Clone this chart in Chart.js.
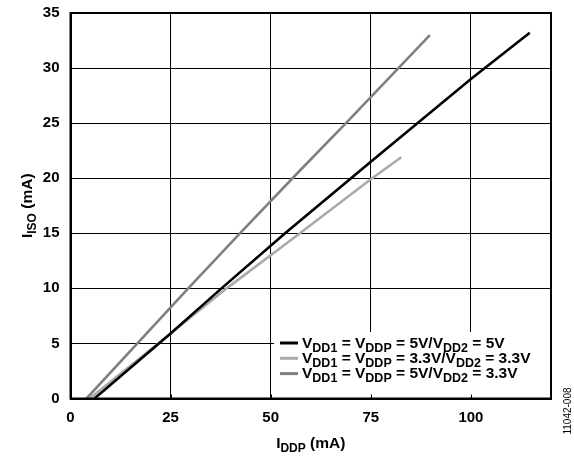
<!DOCTYPE html>
<html>
<head>
<meta charset="utf-8">
<script src="https://cdn.jsdelivr.net/npm/chart.js@4/dist/chart.umd.min.js"></script>
<style>
  body { margin: 0; background: #fff; }
  #wrap { width: 574px; height: 456px; position: relative; }
</style>
</head>
<body>
<div id="wrap"><canvas id="isoChart"></canvas></div>
<script>
// I_DDP (mA) vs I_ISO (mA)
var black5v5vX = [6.0, 25, 37.7, 53.6, 75, 100, 114.7];
var black5v5vY = [0, 5.9, 10, 15, 21.5, 29.0, 33.2];
var light33X = [4.8, 25, 39, 57.3, 75, 82.6];
var light33Y = [0, 5.9, 10, 15, 19.9, 21.9];
var mid5v33X = [4.0, 29.4, 42.3, 57.3, 68.8, 89.75];
var mid5v33Y = [0, 10, 15, 20.7, 25, 33.0];

var xTicks = [0, 25, 50, 75, 100];
var yTicks = [0, 5, 10, 15, 20, 25, 30, 35];

// legend entries: [text, subscript] pieces
var legendItems = [
  { color: '#000000', parts: [['V', 'DD1'], [' = ', ''], ['V', 'DDP'], [' = 5V/', ''], ['V', 'DD2'], [' = 5V', '']] },
  { color: '#aaaaaa', parts: [['V', 'DD1'], [' = ', ''], ['V', 'DDP'], [' = 3.3V/', ''], ['V', 'DD2'], [' = 3.3V', '']] },
  { color: '#808080', parts: [['V', 'DD1'], [' = ', ''], ['V', 'DDP'], [' = 5V/', ''], ['V', 'DD2'], [' = 3.3V', '']] }
];

var pts = function(xs, ys){
  var out = [];
  for (var i = 0; i < xs.length; i++) out.push({x: xs[i], y: ys[i]});
  return out;
};

var FONT = '"Liberation Sans", Arial, sans-serif';

// draws "main" + "sub" pieces; returns width
var drawSub = function(ctx, parts, x, y, size, subSize){
  var cx = x;
  parts.forEach(function(p){
    ctx.font = 'bold ' + size + 'px ' + FONT;
    ctx.fillText(p[0], cx, y);
    cx += ctx.measureText(p[0]).width;
    if (p[1]) {
      ctx.font = 'bold ' + subSize + 'px ' + FONT;
      ctx.fillText(p[1], cx, y + 4);
      cx += ctx.measureText(p[1]).width;
    }
  });
  return cx - x;
};
var measureSub = function(ctx, parts, size, subSize){
  var w = 0;
  parts.forEach(function(p){
    ctx.font = 'bold ' + size + 'px ' + FONT;
    w += ctx.measureText(p[0]).width;
    if (p[1]) { ctx.font = 'bold ' + subSize + 'px ' + FONT; w += ctx.measureText(p[1]).width; }
  });
  return w;
};

var extras = {
  id: 'extras',
  afterDraw: function(chart){
    var ctx = chart.ctx, a = chart.chartArea;
    var xs = chart.scales.x;
    ctx.save();
    // legend box
    ctx.fillStyle = '#fff';
    ctx.fillRect(274, 332, a.right - 274 - 1, a.bottom - 332 - 1);
    // small inner ticks on bottom axis over the legend
    ctx.strokeStyle = '#000'; ctx.lineWidth = 1;
    xTicks.forEach(function(t){
      var px = Math.round(xs.getPixelForValue(t)) + 0.5;
      ctx.beginPath(); ctx.moveTo(px, a.bottom); ctx.lineTo(px, a.bottom - 4); ctx.stroke();
    });
    ctx.textBaseline = 'alphabetic';
    ctx.fillStyle = '#000';
    legendItems.forEach(function(it, i){
      var ly = 343 + i * 15.3;
      ctx.strokeStyle = it.color; ctx.lineWidth = 3;
      ctx.beginPath(); ctx.moveTo(280, ly); ctx.lineTo(298, ly); ctx.stroke();
      ctx.fillStyle = '#000';
      drawSub(ctx, it.parts, 302, ly + 4.5, 15.5, 12.5);
    });
    // frame
    ctx.strokeStyle = '#000'; ctx.lineWidth = 2;
    ctx.strokeRect(a.left, a.top, a.right - a.left, a.bottom - a.top);
    // x axis title
    var xt = [['I', 'DDP'], [' (mA)', '']];
    var w = measureSub(ctx, xt, 15.5, 12);
    drawSub(ctx, xt, (a.left + a.right) / 2 - w / 2, 448, 15.5, 12);
    // y axis title
    var yt = [['I', 'ISO'], [' (mA)', '']];
    w = measureSub(ctx, yt, 15.5, 12);
    ctx.save();
    ctx.translate(32, (a.top + a.bottom) / 2);
    ctx.rotate(-Math.PI / 2);
    drawSub(ctx, yt, -w / 2, 0, 15.5, 12);
    ctx.restore();
    // figure id
    ctx.save();
    ctx.translate(571, 411);
    ctx.rotate(-Math.PI / 2);
    ctx.font = '10px ' + FONT;
    ctx.textAlign = 'center';
    ctx.fillText('11042-008', 0, 0);
    ctx.restore();
    ctx.restore();
  }
};

var ctx = document.getElementById('isoChart').getContext('2d');
var isoChart = new Chart(ctx, {
  type: 'line',
  data: {
    datasets: [
      { label: 'VDD1 = VDDP = 5V/VDD2 = 5V', data: pts(black5v5vX, black5v5vY), borderColor: '#000000', borderWidth: 2.6 },
      { label: 'VDD1 = VDDP = 3.3V/VDD2 = 3.3V', data: pts(light33X, light33Y), borderColor: '#aaaaaa', borderWidth: 2.6 },
      { label: 'VDD1 = VDDP = 5V/VDD2 = 3.3V', data: pts(mid5v33X, mid5v33Y), borderColor: '#808080', borderWidth: 2.6 }
    ]
  },
  options: {
    responsive: true,
    maintainAspectRatio: false,
    animation: false,
    layout: { padding: { left: 0, top: 13, right: 23, bottom: 0 } },
    elements: { point: { radius: 0 }, line: { tension: 0, borderCapStyle: 'butt' } },
    plugins: { legend: { display: false }, tooltip: { enabled: false } },
    scales: {
      x: {
        type: 'linear', min: 0, max: 120,
        afterFit: function(s){ s.height = 57.5; s.paddingLeft = 0; s.paddingRight = 0; },
        afterBuildTicks: function(s){ s.ticks = xTicks.map(function(v){ return {value: v}; }); },
        grid: { color: '#000', lineWidth: 1, drawTicks: false },
        border: { display: true, color: '#000', width: 2 },
        ticks: { padding: 10, color: '#000', font: { family: FONT, size: 15, weight: 'bold' } }
      },
      y: {
        type: 'linear', min: 0, max: 35,
        afterFit: function(s){ s.width = 70.5; s.paddingTop = 0; s.paddingBottom = 0; },
        afterBuildTicks: function(s){ s.ticks = yTicks.map(function(v){ return {value: v}; }); },
        grid: { color: '#000', lineWidth: 1, drawTicks: false },
        border: { display: true, color: '#000', width: 2 },
        ticks: { padding: 11, color: '#000', font: { family: FONT, size: 15, weight: 'bold' } }
      }
    }
  },
  plugins: [extras]
});
</script>
</body>
</html>
